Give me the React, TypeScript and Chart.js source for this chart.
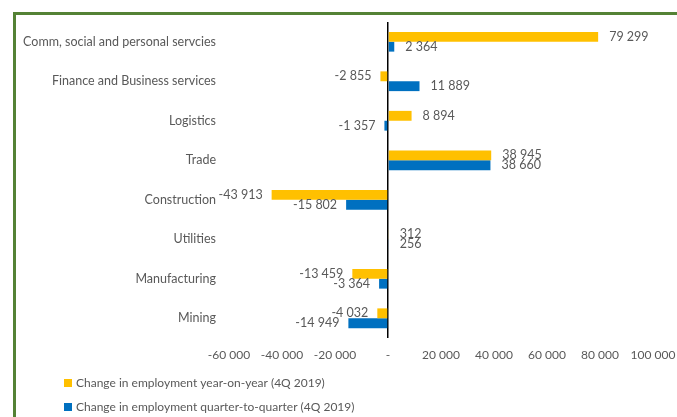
import React, { useEffect, useRef } from "react";
import { Chart, registerables } from "chart.js";

Chart.register(...registerables);

const categories = [
  "Comm, social and personal servcies",
  "Finance and Business services",
  "Logistics",
  "Trade",
  "Construction",
  "Utilities",
  "Manufacturing",
  "Mining",
];
const seriesLabels = [
  "Change in employment year-on-year (4Q 2019)",
  "Change in employment quarter-to-quarter (4Q 2019)",
];
const yoyValues = [79299, -2855, 8894, 38945, -43913, 312, -13459, -4032];
const qoqValues = [2364, 11889, -1357, 38660, -15802, 256, -3364, -14949];
const xMin = -60000;
const xMax = 100000;
const xStep = 20000;

const seriesColors = ["#FFC000", "#0070C0"];
const textColor = "#595959";
const fontFamily = "Lato, 'Open Sans', sans-serif";

function fmt(v: number): string {
  if (v === 0) return "-";
  const s = Math.abs(Math.round(v))
    .toString()
    .replace(/\B(?=(\d{3})+(?!\d))/g, " ");
  return (v < 0 ? "-" : "") + s;
}

const dataLabelPlugin = {
  id: "dataLabels",
  afterDatasetsDraw(chart: any) {
    const ctx = chart.ctx;
    ctx.save();
    ctx.font = `12.5px ${fontFamily}`;
    ctx.fillStyle = textColor;
    ctx.textBaseline = "middle";
    chart.data.datasets.forEach((ds: any, i: number) => {
      const meta = chart.getDatasetMeta(i);
      meta.data.forEach((bar: any, j: number) => {
        const v = ds.data[j];
        const neg = v < 0;
        ctx.textAlign = neg ? "right" : "left";
        ctx.fillText(fmt(v), bar.x + (neg ? -9 : 11), bar.y);
      });
    });
    ctx.restore();
  },
};

const legendPlugin = {
  id: "stackedLegend",
  afterDraw(chart: any) {
    const ctx = chart.ctx;
    ctx.save();
    ctx.font = `12px ${fontFamily}`;
    ctx.textBaseline = "middle";
    ctx.textAlign = "left";
    chart.data.datasets.forEach((ds: any, i: number) => {
      const y = chart.chartArea.bottom + 45 + i * 24;
      ctx.fillStyle = ds.backgroundColor;
      ctx.fillRect(64, y - 4, 8, 8);
      ctx.fillStyle = textColor;
      ctx.fillText(ds.label, 76, y);
    });
    ctx.restore();
  },
};

export default function App() {
  const ref = useRef<HTMLCanvasElement>(null);

  useEffect(() => {
    if (!ref.current) return;
    Chart.defaults.font.family = fontFamily;
    Chart.defaults.font.size = 12.5;
    Chart.defaults.color = textColor;
    const chart = new Chart(ref.current, {
      type: "bar",
      data: {
        labels: categories,
        datasets: [
          {
            label: seriesLabels[0],
            data: yoyValues,
            backgroundColor: seriesColors[0],
            categoryPercentage: 0.5,
            barPercentage: 1,
          },
          {
            label: seriesLabels[1],
            data: qoqValues,
            backgroundColor: seriesColors[1],
            categoryPercentage: 0.5,
            barPercentage: 1,
          },
        ],
      },
      options: {
        indexAxis: "y",
        responsive: false,
        animation: false,
        devicePixelRatio: 1,
        layout: { padding: { top: 22, right: 24, bottom: 49, left: 0 } },
        plugins: {
          legend: { display: false },
          tooltip: { enabled: false },
        },
        scales: {
          x: {
            min: xMin,
            max: xMax,
            border: { display: false },
            grid: {
              drawTicks: false,
              color: (c: any) => (c.tick && c.tick.value === 0 ? "#000000" : "rgba(0,0,0,0)"),
              lineWidth: 1.5,
            },
            ticks: {
              stepSize: xStep,
              padding: 10,
              maxRotation: 0,
              color: textColor,
              font: { size: 12 },
              callback: (v: any) => fmt(Number(v)),
            },
            afterFit: (scale: any) => {
              scale.height = 30;
              scale.paddingLeft = 0;
              scale.paddingRight = 0;
            },
          },
          y: {
            border: { display: false },
            grid: { display: false, drawTicks: false },
            ticks: { padding: 13, color: textColor },
            afterFit: (scale: any) => {
              scale.width = 229;
              scale.paddingTop = 0;
              scale.paddingBottom = 0;
            },
          },
        },
      },
      plugins: [dataLabelPlugin, legendPlugin],
    } as any);
    return () => chart.destroy();
  }, []);

  return (
    <div
      style={{
        position: "fixed",
        left: 0,
        top: 0,
        width: 677,
        height: 417,
        overflow: "hidden",
        background: "#ffffff",
      }}
    >
      <div
        style={{
          position: "absolute",
          left: 13,
          top: 12,
          width: 800,
          height: 600,
          border: "3px solid #548235",
          boxSizing: "border-box",
        }}
      />
      <canvas
        ref={ref}
        width={677}
        height={417}
        style={{ position: "absolute", left: 0, top: 0, width: 677, height: 417 }}
      />
    </div>
  );
}
